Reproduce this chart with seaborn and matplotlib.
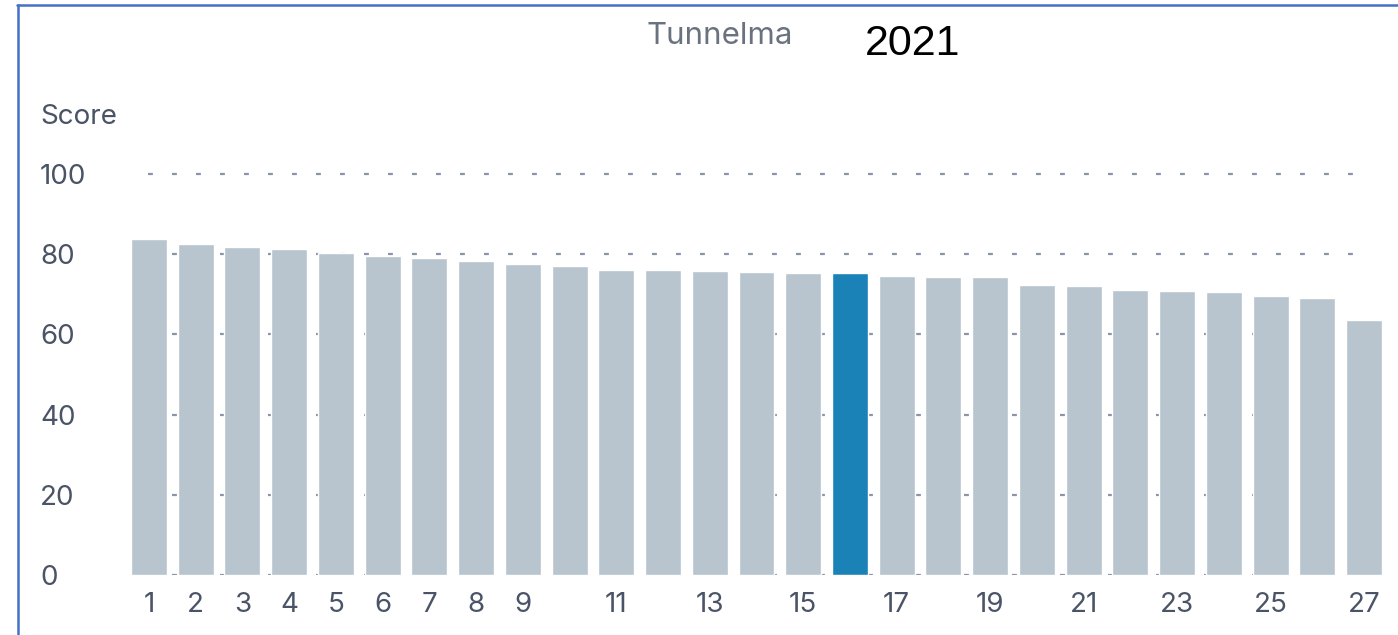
import matplotlib
matplotlib.use("Agg")
import matplotlib.pyplot as plt
import seaborn as sns
import pandas as pd
from matplotlib.lines import Line2D

categories = [str(i) for i in range(1, 28)]
scores = [83.8, 82.5, 81.8, 81.3, 80.3, 79.6, 79.1, 78.3, 77.6, 77.1,
          76.1, 76.1, 75.8, 75.6, 75.3, 75.3, 74.6, 74.3, 74.3, 72.3,
          72.1, 71.1, 70.8, 70.6, 69.6, 69.1, 63.6]
highlight = "16"
tick_labels = ["1", "2", "3", "4", "5", "6", "7", "8", "9", "", "11", "", "13", "",
               "15", "", "17", "", "19", "", "21", "", "23", "", "25", "", "27"]
y_ticks = [0, 20, 40, 60, 80, 100]
title = "Tunnelma"
year = "2021"
y_label = "Score"

sns.set_theme(style="white")
plt.rcParams['font.family'] = ['Inter', 'DejaVu Sans']

df = pd.DataFrame({"cat": categories, "score": scores})
grey = "#b8c4ce"
blue = "#1b82b8"
palette = {c: (blue if c == highlight else grey) for c in categories}
text_col = "#4a5466"

W, H = 1398, 635
fig = plt.figure(figsize=(W / 100, H / 100), dpi=100)
ax_left, ax_right = 125.6 / W, 1387.4 / W
ax_bottom = (H - 575) / H
ax_top = (H - 154) / H
ax = fig.add_axes([ax_left, ax_bottom, ax_right - ax_left, ax_top - ax_bottom])

# grid lines (behind bars)
gx0 = (148 - 125.6) / (1387.4 - 125.6)
gx1 = (1356 - 125.6) / (1387.4 - 125.6)
for yv in y_ticks:
    ax.axhline(yv, xmin=gx0, xmax=gx1, color="#8a96a8", lw=1.6,
               linestyle=(0, (2.2, 8.6)), zorder=0)

sns.barplot(data=df, x="cat", y="score", hue="cat", palette=palette,
            order=categories, legend=False, width=0.77, ax=ax,
            saturation=1, zorder=2)

ax.set_xlim(-0.5, 26.5)
ax.set_ylim(0, 105)
ax.set_yticks(y_ticks)
ax.set_yticklabels([str(v) for v in y_ticks])
ax.set_xticks(range(len(categories)))
ax.set_xticklabels(tick_labels)
ax.tick_params(axis="both", length=0, labelsize=20, colors=text_col)
ax.tick_params(axis="x", pad=12)
ax.yaxis.set_tick_params(pad=(125.6 - 40) / 1.389)
for lbl in ax.get_yticklabels():
    lbl.set_horizontalalignment("left")
ax.set_xlabel("")
ax.set_ylabel("")
for s in ax.spines.values():
    s.set_visible(False)

fig.text(40 / W, 1 - 117 / H, y_label, fontsize=20, color=text_col,
         ha="left", va="center")
fig.text(720 / W, 1 - 36 / H, title, fontsize=22.5, color="#6a7280",
         ha="center", va="center")
fig.text(913 / W, 1 - 44 / H, year, fontsize=31, color="black",
         ha="center", va="center", family=["Liberation Sans", "DejaVu Sans"])

# frame lines (top and left)
fig.add_artist(Line2D([17 / W, 1], [1 - 4.5 / H, 1 - 4.5 / H], color="#4472c4",
                      lw=1.8, transform=fig.transFigure))
fig.add_artist(Line2D([17.5 / W, 17.5 / W], [0, 1 - 4.5 / H], color="#4472c4",
                      lw=1.8, transform=fig.transFigure))

fig.savefig("out.png", dpi=100)
